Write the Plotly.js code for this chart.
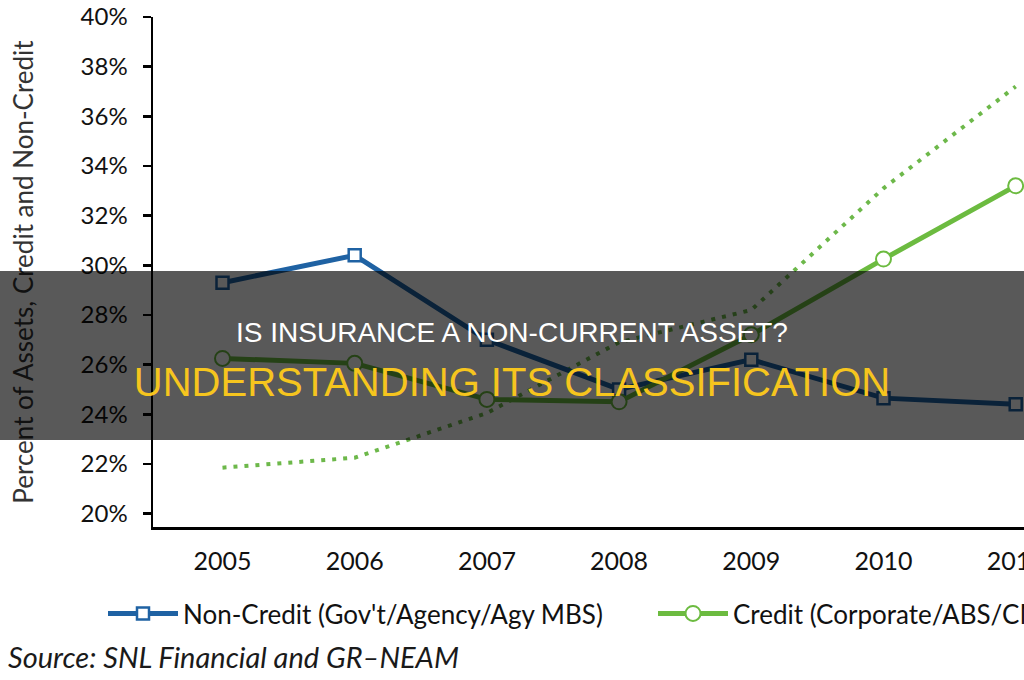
<!DOCTYPE html>
<html>
<head>
<meta charset="utf-8">
<script src="https://cdn.plot.ly/plotly-3.0.1.min.js"></script>
<style>
  html, body { margin: 0; padding: 0; width: 1024px; height: 680px; overflow: hidden; background: #fff; }
  #chart { position: absolute; left: 0; top: 0; width: 1400px; height: 680px; }
  #band { position: absolute; left: 0; top: 271px; width: 1024px; height: 169px; background: rgba(0,0,0,0.65); }
  .hl { position: absolute; left: 0; width: 1024px; text-align: center; font-family: "Liberation Sans", Arial, sans-serif; white-space: nowrap; }
  #l1 { top: 313px; font-size: 28px; line-height: 40px; color: #ffffff; }
  #l2 { top: 358px; font-size: 40px; line-height: 48px; color: #f6c51e; }
</style>
</head>
<body>
<div id="chart"></div>
<div id="band"></div>
<div class="hl" id="l1">IS INSURANCE A NON-CURRENT ASSET?</div>
<div class="hl" id="l2">UNDERSTANDING ITS CLASSIFICATION</div>
<script>
// ---- data (percent of assets) ----
const years = [2005, 2006, 2007, 2008, 2009, 2010, 2011];
const nonCredit = [29.3, 30.4, 27.0, 25.0, 26.2, 24.65, 24.4];
const credit = [26.25, 26.05, 24.6, 24.5, 27.2, 30.25, 33.2];
const creditTrend = [21.85, 22.25, 24.05, 26.9, 28.2, 33.1, 37.2];
const yTicks = [20, 22, 24, 26, 28, 30, 32, 34, 36, 38, 40];
const yTickText = ["20%", "22%", "24%", "26%", "28%", "30%", "32%", "34%", "36%", "38%", "40%"];
const seriesNames = ["Non-Credit (Gov't/Agency/Agy MBS)", "Credit (Corporate/ABS/CMBS)"];
const yTitle = "Percent of Assets, Credit and Non-Credit";
const sourceText = "Source: SNL Financial and GR\u2013NEAM";

const FONT = "Lato, 'Open Sans', sans-serif";
const W = 1400, H = 680;
const ML = 153, MR = 100, MT = 17, MB = 153;
const plotW = W - ML - MR, plotH = H - MT - MB;
const px2x = p => (p - ML) / plotW;
const px2y = p => (H - MB - p) / plotH;
const STEP = 132.2;               // pixels per year in the reference
const X0 = 2005 - (222.5 - ML) / STEP;
const X1 = X0 + plotW / STEP;

const traces = [
  {
    x: years, y: creditTrend, type: 'scatter', mode: 'lines',
    line: { color: '#6db84a', width: 4, dash: '4px,7px' },
    showlegend: false, hoverinfo: 'skip'
  },
  {
    x: years, y: nonCredit, name: seriesNames[0], type: 'scatter', mode: 'lines+markers',
    line: { color: '#1f62a3', width: 5 },
    marker: { symbol: 'square', size: 12, color: '#ffffff', line: { color: '#1f62a3', width: 2.5 } }
  },
  {
    x: years, y: credit, name: seriesNames[1], type: 'scatter', mode: 'lines+markers',
    line: { color: '#6cbb40', width: 5 },
    marker: { symbol: 'circle', size: 15, color: '#ffffff', line: { color: '#6cbb40', width: 2 } }
  }
];

const layout = {
  width: W, height: H,
  margin: { l: ML, r: MR, t: MT, b: MB, pad: 0 },
  paper_bgcolor: '#ffffff', plot_bgcolor: '#ffffff',
  font: { family: FONT, color: '#111111' },
  showlegend: true,
  legend: {
    orientation: 'h', x: px2x(103), xanchor: 'left', y: px2y(590), yanchor: 'top',
    font: { family: FONT, size: 26, color: '#111111' },
    itemwidth: 70, entrywidth: 465, entrywidthmode: 'pixels',
    bgcolor: 'rgba(0,0,0,0)', traceorder: 'normal'
  },
  xaxis: {
    range: [X0, X1], tickvals: years, ticktext: years.map(String),
    showgrid: false, zeroline: false, showline: true, linecolor: '#000000', linewidth: 2.5,
    ticks: 'outside', ticklen: 10, tickcolor: 'rgba(0,0,0,0)',
    tickfont: { family: FONT, size: 25, color: '#111111' }
  },
  yaxis: {
    range: [19.46, 40], tickvals: yTicks, ticktext: yTickText,
    showgrid: false, zeroline: false, showline: true, linecolor: '#000000', linewidth: 2.5,
    ticks: 'outside', ticklen: 8, tickwidth: 2.5, tickcolor: '#000000',
    ticklabelstandoff: 10,
    tickfont: { family: FONT, size: 24, color: '#111111' },
    title: { text: yTitle, standoff: 40, font: { family: FONT, size: 26, color: '#333333' } }
  },
  annotations: [
    {
      text: sourceText, xref: 'paper', yref: 'paper', x: px2x(6), y: px2y(656),
      xanchor: 'left', yanchor: 'middle', showarrow: false,
      font: { family: FONT, size: 29, color: '#1a1a1a', style: 'italic' }
    }
  ]
};

Plotly.newPlot('chart', traces, layout, { displayModeBar: false, staticPlot: true });
</script>
</body>
</html>
